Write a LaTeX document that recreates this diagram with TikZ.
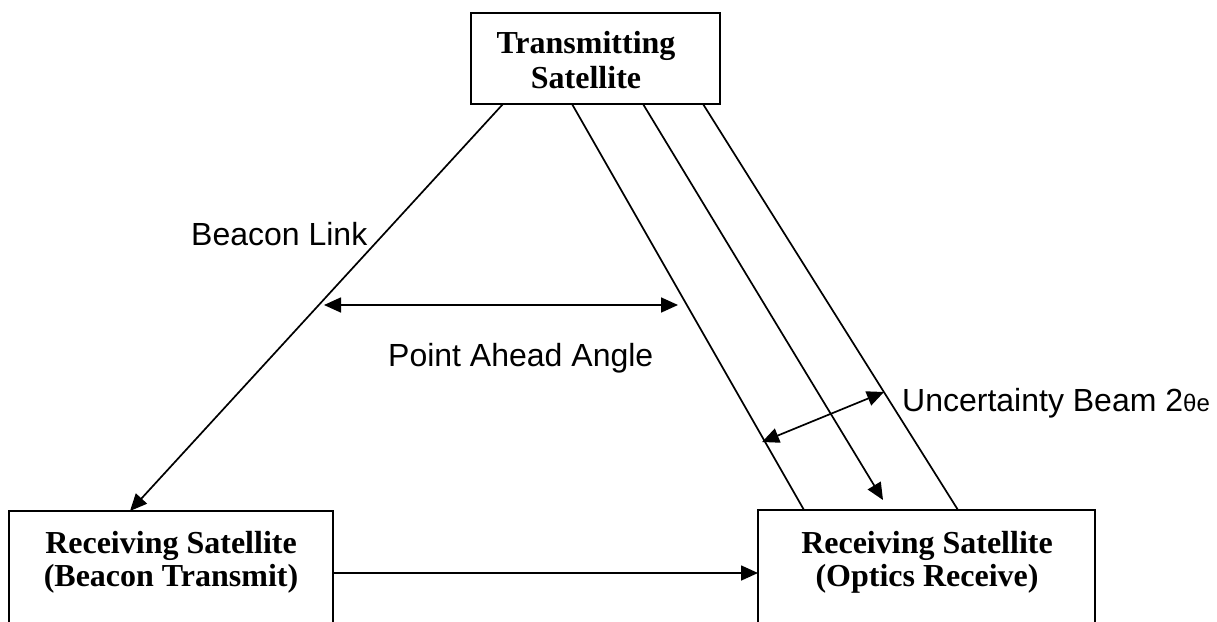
\documentclass[tikz,border=0pt]{standalone}
\usepackage{fontspec}
\setmainfont{Liberation Serif}
\setsansfont{Liberation Sans}
\usetikzlibrary{arrows.meta}
\begin{document}
\begin{tikzpicture}[x=1pt,y=-1pt,
  box/.style={draw, line width=2.2pt, rectangle, inner sep=0pt, outer sep=0pt},
  title/.style={font=\fontsize{32}{36}\selectfont\bfseries, inner sep=0pt, anchor=base},
  lbl/.style={font=\sffamily\fontsize{32}{36}\selectfont, inner sep=0pt, anchor=base west},
  conn/.style={line width=1.7pt},
  arr/.style={conn, -{Triangle[length=17pt,width=15pt]}},
  darr/.style={conn, {Triangle[length=17pt,width=15pt]}-{Triangle[length=17pt,width=15pt]}}]
\useasboundingbox (0,0) rectangle (1217,621);
\clip (0,0) rectangle (1217,621);
\fill[white] (0,0) rectangle (1217,621);

% boxes
\node[box, anchor=north west, minimum width=249pt, minimum height=91pt] (tb) at (471,13) {};
\node[box, anchor=north west, minimum width=324pt, minimum height=140pt] (lb) at (9,511) {};
\node[box, anchor=north west, minimum width=337pt, minimum height=140pt] (rb) at (758,510) {};

% box texts
\node[title] (tb1) at (586,53) {Transmitting};
\node[title] (tb2) at (586,88) {Satellite};
\node[title] (lb1) at (171,553) {Receiving Satellite};
\node[title] (lb2) at (171,586) {(Beacon Transmit)};
\node[title] (rb1) at (927,553) {Receiving Satellite};
\node[title] (rb2) at (927,586) {(Optics Receive)};

% beacon link
\draw[arr] ([xshift=-92.5pt]tb.south) -- ([xshift=121pt]lb.north west);
% beam edges and centre
\draw[conn] ([xshift=-23.5pt]tb.south) -- ([xshift=46pt]rb.north west);
\draw[arr] ([xshift=47.5pt]tb.south) -- ([xshift=125pt,yshift=10pt]rb.north west);
\draw[conn] ([xshift=107.5pt]tb.south) -- ([xshift=200pt]rb.north west);
% horizontal link
\draw[arr] ([yshift=-62pt]lb.north east) -- ([yshift=-62pt]lb.north east -| rb.west);

% dimension arrows
\coordinate (pa1) at (324,305);
\coordinate (pa2) at (678,305);
\draw[darr] (pa1) -- (pa2);
\coordinate (ub1) at (762,442);
\coordinate (ub2) at (884,392);
\draw[darr] (ub1) -- (ub2);

% labels
\node[lbl] (bl) at (191,245) {Beacon Link};
\node[lbl] (pa) at (388,366) {Point Ahead Angle};
\node[lbl] (ub) at (902,411) {Uncertainty Beam 2{\fontsize{24}{24}\selectfont θe}};
\end{tikzpicture}
\end{document}
